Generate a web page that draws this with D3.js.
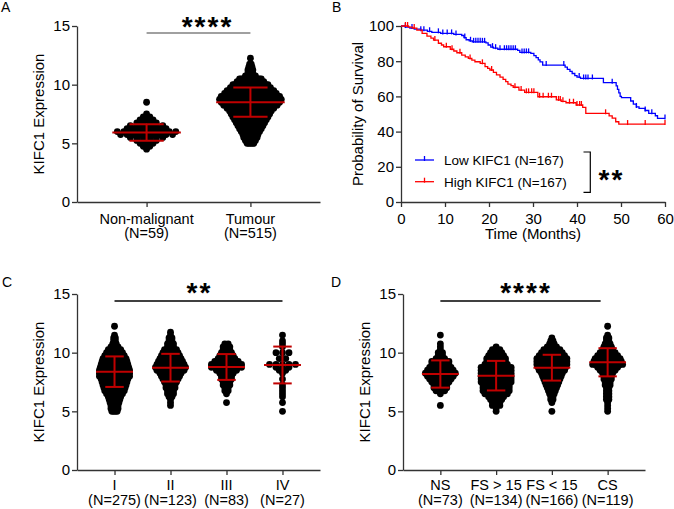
<!DOCTYPE html>
<html><head><meta charset="utf-8">
<script src="https://cdn.jsdelivr.net/npm/d3@7"></script>
<style>
body{margin:0;background:#fff}
svg{display:block}
</style></head><body>
<svg id="c" width="674" height="509"></svg>
<script>
// ---------- DATA ----------
// expression histogram bins: first bin value and bin width
const binStart = 4.5, binStep = 0.25;
const exprTicks = [0, 5, 10, 15];

// Panel A
const aCategories = ["Non-malignant", "Tumour"];
const aN = ["(N=59)", "(N=515)"];
const aNonMalignantBins = [1,2,3,4,6,9,10,7,6,4,3,2,1,0,0,0,1,0,0,0,0,0,0,0,0,0,0,0,0,0,0,0,0];
const aTumourBins = [0,0,5,7,9,10,12,14,16,18,20,22,24,26,29,33,36,38,36,32,29,25,22,17,14,7,4,4,3,2,0,1,0];
const aMeans = [5.93, 8.51];
const aSDs = [0.70, 1.24];

// Panel B (Kaplan-Meier)
const bTicksX = [0, 10, 20, 30, 40, 50, 60];
const bTicksY = [0, 20, 40, 60, 80, 100];
const lowTime = [0,1,2,3,4.5,6,7,9,12,13.8,14.3,14.8,15.5,16.2,19.3,19.8,20.4,21,22,26.5,27,29.5,30.2,30.7,31.2,31.6,32.2,37.3,37.8,38.4,38.9,39.5,40,40.8,46,48.9,49.2,49.5,49.8,50.1,52.2,52.8,53.5,54.1,55.5,56.3,57.8,58.3,60];
const lowSurv = [100,99.4,98.8,98.2,97.6,97,96.4,95.8,95.2,94.6,93.4,92.2,91.6,91,90.4,89.2,88,87.4,86.8,86.2,85,84.4,83.2,82,80.8,79.6,77.8,76.6,75.4,74.2,73,71.8,71,70.2,67.8,66,64,62,60,59.3,57.4,55.6,54,53.2,52,50.4,49,47.5,47.5];
const lowCensor = [1,2.5,4.5,5.2,6.5,8.5,9.5,10.5,11.5,12.5,14.5,15.8,16.5,17,17.5,18,18.5,19,20.8,21.5,22.5,23.5,24,24.5,25,25.5,26,27.5,28,28.5,29,33,37,40.5,41.5,42,42.5,43.5,48,53.5,55.5,57,60];
const highTime = [0,1.7,2.6,3.6,4.8,5.9,6.8,7.4,8.5,9.2,9.7,11.2,12,12.7,13.8,14.6,15.3,16.1,16.8,18,19.1,19.7,20.2,21,21.7,22.5,23.2,23.8,24.3,25,25.5,26.8,28.1,31.1,35.3,36.4,37.5,39.8,41.3,42,47.3,48,48.8,49.5,60];
const highSurv = [100,99.4,98.8,97.6,95.8,94.3,93.1,92,90.2,89.2,88.2,86.8,85.8,84.8,83.5,82.5,81.6,80.6,79.7,78.8,76.9,75.9,75,73.6,72.2,70.9,69.7,68.4,67,66.1,65.2,63.6,62.3,59.8,58,57.2,56.4,55.1,53.8,50.4,48.9,47.6,45.6,44.3,44.3];
const highCensor = [1,1.5,3,7.7,10.3,11.6,13.4,15.7,18.5,20.6,25.9,27.3,28.5,29,29.7,30.2,31.5,32.3,33.5,34.2,35.8,36.2,36.8,38.3,39.2,40,40.6,41,46.5,51.5,55.5,60];
const legendLabels = ["Low KIFC1 (N=167)", "High KIFC1 (N=167)"];

// Panel C
const cCategories = ["I", "II", "III", "IV"];
const cN = ["(N=275)", "(N=123)", "(N=83)", "(N=27)"];
const cStageIBins = [0,0,4,5,5,6,7,8,10,12,13,14,15,16,18,18,18,17,16,15,14,12,10,8,5,3,2,2,1,0,0,1,0];
const cStageIIBins = [0,0,0,0,1,1,1,2,3,3,4,4,5,6,7,8,10,11,10,9,8,7,6,5,3,3,2,2,1,1,0,0,0];
const cStageIIIBins = [0,0,0,0,0,1,0,0,1,2,2,3,3,4,4,5,7,10,10,8,6,5,4,3,3,2,0,0,0,0,0,0,0];
const cStageIVBins = [0,0,1,0,0,1,0,1,1,1,1,1,0,1,0,1,2,3,5,0,2,0,3,0,1,1,1,0,1,0,0,0,0];
const cMeans = [8.38, 8.72, 8.78, 8.95];
const cSDs = [1.30, 1.18, 1.10, 1.57];

// Panel D
const dCategories = ["NS", "FS > 15", "FS < 15", "CS"];
const dN = ["(N=73)", "(N=134)", "(N=166)", "(N=119)"];
const dNSBins = [0,0,0,0,1,0,0,0,1,3,4,4,5,6,7,8,7,6,5,5,3,2,2,1,1,1,0,0,1,0,0,0,0];
const dFSover15Bins = [0,0,1,1,3,3,4,5,7,8,8,8,9,9,9,9,9,9,7,6,6,5,4,3,1,0,0,0,0,0,0,0,0];
const dFSunder15Bins = [0,0,1,0,0,1,2,2,3,4,5,6,7,8,9,10,12,13,14,14,14,12,10,8,5,3,2,1,0,0,0,0,0];
const dCSBins = [0,0,1,1,1,1,2,2,2,2,2,3,3,4,4,5,7,9,13,12,11,9,7,5,4,3,2,2,1,0,0,1,0];
const dMeans = [8.18, 8.04, 8.72, 9.18];
const dSDs = [1.16, 1.26, 1.10, 1.20];

// ---------- DRAWING ----------
const FONT = '"Liberation Sans", Arial, Helvetica, sans-serif';
const R = 3.4, RED = "#c00000", AX = "#333333";
const svg = d3.select("#c").attr("font-family", FONT);

function styleAxis(g, fs) {
  g.attr("font-family", FONT).attr("font-size", fs);
  g.select(".domain").attr("stroke", AX).attr("stroke-width", 1.3);
  g.selectAll(".tick line").attr("stroke", AX).attr("stroke-width", 1.3);
  g.selectAll(".tick text").attr("fill", "#000");
}

function panelLabel(txt, x, y) {
  svg.append("text").attr("x", x).attr("y", y).attr("font-size", 14).text(txt);
}

function dotPanel(cfg) {
  const y = d3.scaleLinear().domain([0, 15]).range([cfg.yBottom, cfg.yTop]);
  const x = d3.scalePoint().domain(cfg.cats).range([cfg.xLeft, cfg.xRight]).padding(0.67);
  const band = x.step();

  const gy = svg.append("g").attr("transform", `translate(${cfg.xLeft},0)`)
    .call(d3.axisLeft(y).tickValues(exprTicks).tickSize(5).tickPadding(2).tickSizeOuter(0));
  styleAxis(gy, 15);
  const gx = svg.append("g").attr("transform", `translate(0,${cfg.yBottom})`)
    .call(d3.axisBottom(x).tickSize(5).tickFormat("").tickSizeOuter(0));
  styleAxis(gx, 15);

  cfg.cats.forEach((c, i) => {
    const t = svg.append("text").attr("text-anchor", "middle").attr("font-size", cfg.labSize).attr("fill", "#000");
    t.append("tspan").attr("x", x(c)).attr("y", cfg.yBottom + cfg.lab1).text(c);
    t.append("tspan").attr("x", x(c)).attr("y", cfg.yBottom + cfg.lab2).text(cfg.ns[i]);
  });

  svg.append("text").attr("transform", `translate(${cfg.titleX},${(cfg.yTop + cfg.yBottom) / 2}) rotate(-90)`)
    .attr("text-anchor", "middle").attr("font-size", 15).attr("fill", "#000").text("KIFC1 Expression");

  // swarm dots
  const half = 0.33 * band;
  const pts = [];
  cfg.bins.forEach((bins, gi) => {
    const peak = d3.max(bins);
    const s = Math.min(6.5, (2 * half - 2 * R) / Math.max(1, peak - 1));
    bins.forEach((cnt, bi) => {
      const v = binStart + bi * binStep;
      for (let j = 0; j < cnt; j++) pts.push({ x: x(cfg.cats[gi]) + (j - (cnt - 1) / 2) * s, y: y(v) });
    });
  });
  svg.append("g").selectAll("circle").data(pts).join("circle")
    .attr("cx", d => d.x).attr("cy", d => d.y).attr("r", R).attr("fill", "#000");

  // mean +/- SD
  const eg = svg.append("g").attr("stroke", RED).attr("stroke-width", 2).attr("fill", "none");
  cfg.cats.forEach((c, i) => {
    const cx = x(c), m = cfg.means[i], sd = cfg.sds[i];
    eg.append("line").attr("x1", cx - half).attr("x2", cx + half).attr("y1", y(m)).attr("y2", y(m));
    eg.append("line").attr("x1", cx).attr("x2", cx).attr("y1", y(m - sd)).attr("y2", y(m + sd));
    [m - sd, m + sd].forEach(v => eg.append("line").attr("x1", cx - half / 2).attr("x2", cx + half / 2).attr("y1", y(v)).attr("y2", y(v)));
  });

  // significance
  const first = cfg.cats[0], last = cfg.cats[cfg.cats.length - 1];
  svg.append("line").attr("x1", x(first)).attr("x2", x(last) - cfg.barTrim).attr("y1", y(15) + 7).attr("y2", y(15) + 7)
    .attr("stroke", cfg.barColor).attr("stroke-width", 1.5);
  svg.append("text").attr("x", (x(first) + x(last)) / 2 + cfg.starShift).attr("y", y(15) + cfg.starDy)
    .attr("text-anchor", "middle").attr("font-size", 28).attr("font-weight", "bold")
    .attr("letter-spacing", 2).attr("fill", "#000").text(cfg.stars);
}

// Panel A
panelLabel("A", 1, 12);
dotPanel({ cats: aCategories, ns: aN, bins: [aNonMalignantBins, aTumourBins], means: aMeans, sds: aSDs,
  xLeft: 77, xRight: 320, yTop: 26, yBottom: 202, lab1: 21.5, lab2: 36, labSize: 14.5, titleX: 44,
  barColor: "#808080", barTrim: 0, stars: "****", starShift: 9, starDy: 10 });

// Panel C
panelLabel("C", 2, 287);
dotPanel({ cats: cCategories, ns: cN, bins: [cStageIBins, cStageIIBins, cStageIIIBins, cStageIVBins], means: cMeans, sds: cSDs,
  xLeft: 77, xRight: 320, yTop: 294, yBottom: 470, lab1: 20, lab2: 34.5, labSize: 14.5, titleX: 44,
  barColor: "#000", barTrim: 0, stars: "**", starShift: 1, starDy: 8 });

// Panel D
panelLabel("D", 331, 287);
dotPanel({ cats: dCategories, ns: dN, bins: [dNSBins, dFSover15Bins, dFSunder15Bins, dCSBins], means: dMeans, sds: dSDs,
  xLeft: 403, xRight: 645, yTop: 294, yBottom: 470, lab1: 20, lab2: 34.5, labSize: 14.5, titleX: 370,
  barColor: "#000", barTrim: 7, stars: "****", starShift: 2, starDy: 8 });

// Panel B
panelLabel("B", 332, 12);
(function () {
  const x = d3.scaleLinear().domain([0, 60]).range([401, 665]);
  const y = d3.scaleLinear().domain([0, 100]).range([202, 26]);
  const gy = svg.append("g").attr("transform", "translate(401,0)")
    .call(d3.axisLeft(y).tickValues(bTicksY).tickSize(5).tickPadding(2).tickSizeOuter(0));
  styleAxis(gy, 15);
  const gx = svg.append("g").attr("transform", "translate(0,202)")
    .call(d3.axisBottom(x).tickValues(bTicksX).tickSize(5).tickPadding(6).tickSizeOuter(0));
  styleAxis(gx, 15);
  svg.append("text").attr("x", 533).attr("y", 239).attr("text-anchor", "middle").attr("font-size", 15).text("Time (Months)");
  svg.append("text").attr("transform", "translate(363,114) rotate(-90)").attr("text-anchor", "middle")
    .attr("font-size", 15).text("Probability of Survival");

  const line = d3.line().x(d => x(d[0])).y(d => y(d[1])).curve(d3.curveStepAfter);
  const series = [
    { t: lowTime, s: lowSurv, c: lowCensor, col: "#0000ff" },
    { t: highTime, s: highSurv, c: highCensor, col: "#ff0000" }
  ];
  series.forEach(sr => {
    svg.append("path").attr("d", line(d3.zip(sr.t, sr.s))).attr("fill", "none")
      .attr("stroke", sr.col).attr("stroke-width", 1.3);
    const g = svg.append("g").attr("stroke", sr.col).attr("stroke-width", 1.3);
    sr.c.forEach(ct => {
      const k = Math.max(0, d3.bisectRight(sr.t, ct) - 1);
      const yy = y(sr.s[k]);
      g.append("line").attr("x1", x(ct)).attr("x2", x(ct)).attr("y1", yy - 4).attr("y2", yy + 1);
    });
  });

  // legend
  const ly = [160, 181.7];
  series.forEach((sr, i) => {
    svg.append("line").attr("x1", 415).attr("x2", 434).attr("y1", ly[i]).attr("y2", ly[i]).attr("stroke", sr.col).attr("stroke-width", 1.3);
    svg.append("line").attr("x1", 424.5).attr("x2", 424.5).attr("y1", ly[i] - 4).attr("y2", ly[i] + 1).attr("stroke", sr.col).attr("stroke-width", 1.3);
    svg.append("text").attr("x", 444).attr("y", ly[i] + 5.3).attr("font-size", 13.5).text(legendLabels[i]);
  });
  svg.append("path").attr("d", "M583.5,152H590.3V192.3H583.5").attr("fill", "none").attr("stroke", "#000").attr("stroke-width", 1.2);
  svg.append("text").attr("x", 611.5).attr("y", 189).attr("text-anchor", "middle").attr("font-size", 28)
    .attr("font-weight", "bold").attr("letter-spacing", 2).text("**");
})();
</script>
</body></html>
